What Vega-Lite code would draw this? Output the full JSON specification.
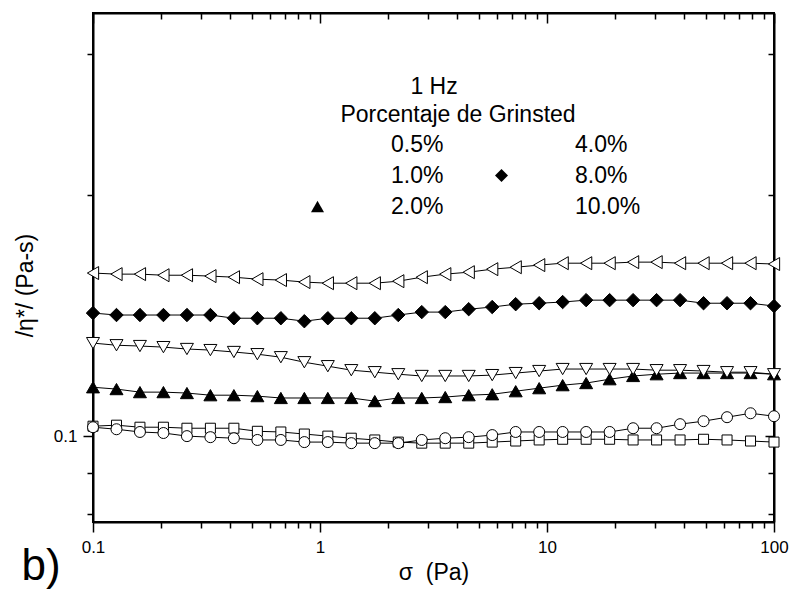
{
  "$schema": "https://vega.github.io/schema/vega-lite/v6.json",
  "width": 681,
  "height": 509,
  "autosize": {"type": "none"},
  "padding": {"left": 93, "top": 13, "right": 21, "bottom": 86},
  "background": "white",
  "config": {
    "font": "Liberation Sans",
    "view": {"stroke": "black", "strokeWidth": 2},
    "axis": {
      "domainColor": "black", "domainWidth": 2, "tickColor": "black", "tickWidth": 1.5,
      "labelColor": "black", "titleColor": "black", "grid": false,
      "labelFont": "Liberation Sans", "titleFont": "Liberation Sans",
      "labelFontSize": 17, "titleFontSize": 23, "titleFontWeight": "normal",
      "labelOverlap": false, "labelFlush": false
    }
  },
  "data": {"values": [
    {"serie":"0.5%","sigma":0.1,"eta":0.1029},{"serie":"0.5%","sigma":0.1269,"eta":0.1032},{"serie":"0.5%","sigma":0.161,"eta":0.1026},{"serie":"0.5%","sigma":0.2043,"eta":0.1026},{"serie":"0.5%","sigma":0.2593,"eta":0.1023},{"serie":"0.5%","sigma":0.329,"eta":0.1023},{"serie":"0.5%","sigma":0.4175,"eta":0.1023},{"serie":"0.5%","sigma":0.5298,"eta":0.1014},{"serie":"0.5%","sigma":0.6723,"eta":0.1012},{"serie":"0.5%","sigma":0.8532,"eta":0.1006},
    {"serie":"0.5%","sigma":1.0826,"eta":0.1},{"serie":"0.5%","sigma":1.3738,"eta":0.0994},{"serie":"0.5%","sigma":1.7433,"eta":0.0989},{"serie":"0.5%","sigma":2.2122,"eta":0.0983},{"serie":"0.5%","sigma":2.8072,"eta":0.098},{"serie":"0.5%","sigma":3.5622,"eta":0.098},{"serie":"0.5%","sigma":4.5203,"eta":0.098},{"serie":"0.5%","sigma":5.7361,"eta":0.0983},{"serie":"0.5%","sigma":7.2789,"eta":0.0986},{"serie":"0.5%","sigma":9.2367,"eta":0.0989},
    {"serie":"0.5%","sigma":11.721,"eta":0.0991},{"serie":"0.5%","sigma":14.874,"eta":0.0991},{"serie":"0.5%","sigma":18.874,"eta":0.0991},{"serie":"0.5%","sigma":23.95,"eta":0.0989},{"serie":"0.5%","sigma":30.392,"eta":0.0989},{"serie":"0.5%","sigma":38.566,"eta":0.0989},{"serie":"0.5%","sigma":48.939,"eta":0.0991},{"serie":"0.5%","sigma":62.102,"eta":0.0989},{"serie":"0.5%","sigma":78.806,"eta":0.0986},{"serie":"0.5%","sigma":100,"eta":0.0983},

    {"serie":"1.0%","sigma":0.1,"eta":0.1026},{"serie":"1.0%","sigma":0.1269,"eta":0.102},{"serie":"1.0%","sigma":0.161,"eta":0.1012},{"serie":"1.0%","sigma":0.2043,"eta":0.1009},{"serie":"1.0%","sigma":0.2593,"eta":0.1},{"serie":"1.0%","sigma":0.329,"eta":0.0997},{"serie":"1.0%","sigma":0.4175,"eta":0.0994},{"serie":"1.0%","sigma":0.5298,"eta":0.0989},{"serie":"1.0%","sigma":0.6723,"eta":0.0989},{"serie":"1.0%","sigma":0.8532,"eta":0.0983},
    {"serie":"1.0%","sigma":1.0826,"eta":0.0983},{"serie":"1.0%","sigma":1.3738,"eta":0.098},{"serie":"1.0%","sigma":1.7433,"eta":0.098},{"serie":"1.0%","sigma":2.2122,"eta":0.098},{"serie":"1.0%","sigma":2.8072,"eta":0.0989},{"serie":"1.0%","sigma":3.5622,"eta":0.0994},{"serie":"1.0%","sigma":4.5203,"eta":0.0997},{"serie":"1.0%","sigma":5.7361,"eta":0.1003},{"serie":"1.0%","sigma":7.2789,"eta":0.1012},{"serie":"1.0%","sigma":9.2367,"eta":0.1012},
    {"serie":"1.0%","sigma":11.721,"eta":0.1012},{"serie":"1.0%","sigma":14.874,"eta":0.1012},{"serie":"1.0%","sigma":18.874,"eta":0.1012},{"serie":"1.0%","sigma":23.95,"eta":0.1023},{"serie":"1.0%","sigma":30.392,"eta":0.1023},{"serie":"1.0%","sigma":38.566,"eta":0.1035},{"serie":"1.0%","sigma":48.939,"eta":0.1044},{"serie":"1.0%","sigma":62.102,"eta":0.1056},{"serie":"1.0%","sigma":78.806,"eta":0.1068},{"serie":"1.0%","sigma":100,"eta":0.1059},

    {"serie":"2.0%","sigma":0.1,"eta":0.1151},{"serie":"2.0%","sigma":0.1269,"eta":0.1145},{"serie":"2.0%","sigma":0.161,"eta":0.1135},{"serie":"2.0%","sigma":0.2043,"eta":0.1135},{"serie":"2.0%","sigma":0.2593,"eta":0.1132},{"serie":"2.0%","sigma":0.329,"eta":0.1125},{"serie":"2.0%","sigma":0.4175,"eta":0.1125},{"serie":"2.0%","sigma":0.5298,"eta":0.1122},{"serie":"2.0%","sigma":0.6723,"eta":0.1116},{"serie":"2.0%","sigma":0.8532,"eta":0.1116},
    {"serie":"2.0%","sigma":1.0826,"eta":0.1116},{"serie":"2.0%","sigma":1.3738,"eta":0.1116},{"serie":"2.0%","sigma":1.7433,"eta":0.1106},{"serie":"2.0%","sigma":2.2122,"eta":0.1116},{"serie":"2.0%","sigma":2.8072,"eta":0.1116},{"serie":"2.0%","sigma":3.5622,"eta":0.1119},{"serie":"2.0%","sigma":4.5203,"eta":0.1125},{"serie":"2.0%","sigma":5.7361,"eta":0.1128},{"serie":"2.0%","sigma":7.2789,"eta":0.1138},{"serie":"2.0%","sigma":9.2367,"eta":0.1148},
    {"serie":"2.0%","sigma":11.721,"eta":0.1158},{"serie":"2.0%","sigma":14.874,"eta":0.1165},{"serie":"2.0%","sigma":18.874,"eta":0.1178},{"serie":"2.0%","sigma":23.95,"eta":0.1189},{"serie":"2.0%","sigma":30.392,"eta":0.1195},{"serie":"2.0%","sigma":38.566,"eta":0.1199},{"serie":"2.0%","sigma":48.939,"eta":0.1199},{"serie":"2.0%","sigma":62.102,"eta":0.1199},{"serie":"2.0%","sigma":78.806,"eta":0.1199},{"serie":"2.0%","sigma":100,"eta":0.1195},

    {"serie":"4.0%","sigma":0.1,"eta":0.1307},{"serie":"4.0%","sigma":0.1269,"eta":0.1299},{"serie":"4.0%","sigma":0.161,"eta":0.1296},{"serie":"4.0%","sigma":0.2043,"eta":0.1292},{"serie":"4.0%","sigma":0.2593,"eta":0.1285},{"serie":"4.0%","sigma":0.329,"eta":0.1281},{"serie":"4.0%","sigma":0.4175,"eta":0.1274},{"serie":"4.0%","sigma":0.5298,"eta":0.1266},{"serie":"4.0%","sigma":0.6723,"eta":0.1255},{"serie":"4.0%","sigma":0.8532,"eta":0.1237},
    {"serie":"4.0%","sigma":1.0826,"eta":0.1223},{"serie":"4.0%","sigma":1.3738,"eta":0.1209},{"serie":"4.0%","sigma":1.7433,"eta":0.1202},{"serie":"4.0%","sigma":2.2122,"eta":0.1195},{"serie":"4.0%","sigma":2.8072,"eta":0.1189},{"serie":"4.0%","sigma":3.5622,"eta":0.1189},{"serie":"4.0%","sigma":4.5203,"eta":0.1189},{"serie":"4.0%","sigma":5.7361,"eta":0.1192},{"serie":"4.0%","sigma":7.2789,"eta":0.1199},{"serie":"4.0%","sigma":9.2367,"eta":0.1206},
    {"serie":"4.0%","sigma":11.721,"eta":0.1213},{"serie":"4.0%","sigma":14.874,"eta":0.1213},{"serie":"4.0%","sigma":18.874,"eta":0.1213},{"serie":"4.0%","sigma":23.95,"eta":0.1213},{"serie":"4.0%","sigma":30.392,"eta":0.1209},{"serie":"4.0%","sigma":38.566,"eta":0.1209},{"serie":"4.0%","sigma":48.939,"eta":0.1206},{"serie":"4.0%","sigma":62.102,"eta":0.1202},{"serie":"4.0%","sigma":78.806,"eta":0.1202},{"serie":"4.0%","sigma":100,"eta":0.1195},

    {"serie":"8.0%","sigma":0.1,"eta":0.1425},{"serie":"8.0%","sigma":0.1269,"eta":0.1417},{"serie":"8.0%","sigma":0.161,"eta":0.1417},{"serie":"8.0%","sigma":0.2043,"eta":0.1417},{"serie":"8.0%","sigma":0.2593,"eta":0.1417},{"serie":"8.0%","sigma":0.329,"eta":0.1417},{"serie":"8.0%","sigma":0.4175,"eta":0.1404},{"serie":"8.0%","sigma":0.5298,"eta":0.1404},{"serie":"8.0%","sigma":0.6723,"eta":0.1404},{"serie":"8.0%","sigma":0.8532,"eta":0.1392},
    {"serie":"8.0%","sigma":1.0826,"eta":0.1404},{"serie":"8.0%","sigma":1.3738,"eta":0.1404},{"serie":"8.0%","sigma":1.7433,"eta":0.1404},{"serie":"8.0%","sigma":2.2122,"eta":0.1417},{"serie":"8.0%","sigma":2.8072,"eta":0.1429},{"serie":"8.0%","sigma":3.5622,"eta":0.1429},{"serie":"8.0%","sigma":4.5203,"eta":0.1441},{"serie":"8.0%","sigma":5.7361,"eta":0.145},{"serie":"8.0%","sigma":7.2789,"eta":0.1462},{"serie":"8.0%","sigma":9.2367,"eta":0.1466},
    {"serie":"8.0%","sigma":11.721,"eta":0.1471},{"serie":"8.0%","sigma":14.874,"eta":0.1479},{"serie":"8.0%","sigma":18.874,"eta":0.1479},{"serie":"8.0%","sigma":23.95,"eta":0.1479},{"serie":"8.0%","sigma":30.392,"eta":0.1479},{"serie":"8.0%","sigma":38.566,"eta":0.1479},{"serie":"8.0%","sigma":48.939,"eta":0.1466},{"serie":"8.0%","sigma":62.102,"eta":0.1466},{"serie":"8.0%","sigma":78.806,"eta":0.1466},{"serie":"8.0%","sigma":100,"eta":0.1454},

    {"serie":"10.0%","sigma":0.1,"eta":0.1599},{"serie":"10.0%","sigma":0.1269,"eta":0.1594},{"serie":"10.0%","sigma":0.161,"eta":0.1594},{"serie":"10.0%","sigma":0.2043,"eta":0.1589},{"serie":"10.0%","sigma":0.2593,"eta":0.1589},{"serie":"10.0%","sigma":0.329,"eta":0.1585},{"serie":"10.0%","sigma":0.4175,"eta":0.158},{"serie":"10.0%","sigma":0.5298,"eta":0.1571},{"serie":"10.0%","sigma":0.6723,"eta":0.1567},{"serie":"10.0%","sigma":0.8532,"eta":0.1558},
    {"serie":"10.0%","sigma":1.0826,"eta":0.1553},{"serie":"10.0%","sigma":1.3738,"eta":0.1553},{"serie":"10.0%","sigma":1.7433,"eta":0.1553},{"serie":"10.0%","sigma":2.2122,"eta":0.1562},{"serie":"10.0%","sigma":2.8072,"eta":0.158},{"serie":"10.0%","sigma":3.5622,"eta":0.1594},{"serie":"10.0%","sigma":4.5203,"eta":0.1603},{"serie":"10.0%","sigma":5.7361,"eta":0.1617},{"serie":"10.0%","sigma":7.2789,"eta":0.1626},{"serie":"10.0%","sigma":9.2367,"eta":0.1636},
    {"serie":"10.0%","sigma":11.721,"eta":0.1645},{"serie":"10.0%","sigma":14.874,"eta":0.1645},{"serie":"10.0%","sigma":18.874,"eta":0.1645},{"serie":"10.0%","sigma":23.95,"eta":0.165},{"serie":"10.0%","sigma":30.392,"eta":0.165},{"serie":"10.0%","sigma":38.566,"eta":0.1645},{"serie":"10.0%","sigma":48.939,"eta":0.1645},{"serie":"10.0%","sigma":62.102,"eta":0.1645},{"serie":"10.0%","sigma":78.806,"eta":0.1645},{"serie":"10.0%","sigma":100,"eta":0.1641}
  ]},
  "layer": [
    {
      "mark": {"type": "line", "color": "black", "strokeWidth": 1},
      "encoding": {
        "x": {"field": "sigma", "type": "quantitative",
          "scale": {"type": "log", "domain": [0.1, 100], "nice": false},
          "axis": {
            "orient": "bottom",
            "values": [0.1,0.2,0.3,0.4,0.5,0.6,0.7,0.8,0.9,1,2,3,4,5,6,7,8,9,10,20,30,40,50,60,70,80,90,100],
            "labelExpr": "datum.value == 0.1 ? '0.1' : datum.value == 1 ? '1' : datum.value == 10 ? '10' : datum.value == 100 ? '100' : ''",
            "tickSize": {"condition": {"test": "indexof([0.1,1,10,100], datum.value) >= 0", "value": 10}, "value": 6},
            "labelPadding": 7,
            "title": "σ\u00a0 (Pa)",
            "titlePadding": 6
          }
        },
        "y": {"field": "eta", "type": "quantitative",
          "scale": {"type": "log", "domain": [0.0781, 0.338], "nice": false, "zero": false},
          "axis": {
            "orient": "left",
            "values": [0.08, 0.09, 0.1, 0.2, 0.3],
            "labelExpr": "datum.value == 0.1 ? '0.1' : ''",
            "tickSize": {"condition": {"test": "datum.value == 0.1", "value": 10}, "value": 6},
            "labelPadding": 6,
            "title": "/η*/ (Pa-s)",
            "titlePadding": 16,
            "titleY": 272
          }
        },
        "detail": {"field": "serie", "type": "nominal"}
      }
    },
    {
      "mark": {"type": "point", "filled": false, "stroke": "black", "strokeWidth": 1, "opacity": 1, "fillOpacity": 1,
        "fill": {"expr": "((datum.serie || datum.value) === '2.0%' || (datum.serie || datum.value) === '8.0%') ? 'black' : 'white'"},
        "size": {"expr": "(datum.serie || datum.value) === '0.5%' ? 100 : (datum.serie || datum.value) === '1.0%' ? 121 : (datum.serie || datum.value) === '8.0%' ? 180 : 169"}
      },
      "encoding": {
        "x": {"field": "sigma", "type": "quantitative",
          "axis": {
            "orient": "top",
            "values": [0.1,0.2,0.3,0.4,0.5,0.6,0.7,0.8,0.9,1,2,3,4,5,6,7,8,9,10,20,30,40,50,60,70,80,90,100],
            "labels": false,
            "tickSize": {"condition": {"test": "indexof([0.1,1,10,100], datum.value) >= 0", "value": -10}, "value": -6},
            "title": null
          }
        },
        "y": {"field": "eta", "type": "quantitative",
          "axis": {
            "orient": "right",
            "values": [0.08, 0.09, 0.1, 0.2, 0.3],
            "labels": false,
            "tickSize": {"condition": {"test": "datum.value == 0.1", "value": -9}, "value": -6},
            "title": null
          }
        },
        "shape": {"field": "serie", "type": "nominal",
          "scale": {"domain": ["0.5%","1.0%","2.0%","4.0%","8.0%","10.0%"],
                    "range": ["square","circle","triangle-up","triangle-down","diamond","triangle-left"]},
          "legend": {
            "title": null,
            "orient": "none", "legendX": 213, "legendY": 120,
            "columns": 2, "columnPadding": 46, "rowPadding": 7,
            "padding": 0,
            "symbolSize": 169,
            "symbolStrokeColor": "black", "symbolStrokeWidth": 1,
            "labelFont": "Liberation Sans", "labelFontSize": 23, "labelColor": "black", "labelOffset": 62
          }
        }
      }
    },
    {
      "data": {"values": [{}]},
      "mark": {"type": "text", "text": "1 Hz", "font": "Liberation Sans", "fontSize": 23, "color": "black", "align": "center", "baseline": "middle"},
      "encoding": {
        "x": {"datum": 3.18, "type": "quantitative", "axis": null},
        "y": {"datum": 0.2731, "type": "quantitative", "axis": null}
      }
    },
    {
      "data": {"values": [{}]},
      "mark": {"type": "text", "text": "Porcentaje de Grinsted", "font": "Liberation Sans", "fontSize": 23, "color": "black", "align": "center", "baseline": "middle"},
      "encoding": {
        "x": {"datum": 4.055, "type": "quantitative", "axis": null},
        "y": {"datum": 0.2519, "type": "quantitative", "axis": null}
      }
    },
    {
      "data": {"values": [{}]},
      "mark": {"type": "text", "text": "b)", "font": "Liberation Sans", "fontSize": 44, "color": "black", "dx": -52, "align": "center", "baseline": "middle"},
      "encoding": {
        "x": {"datum": 0.1, "type": "quantitative", "axis": null},
        "y": {"datum": 0.0686, "type": "quantitative", "axis": null}
      }
    }
  ],
  "resolve": {"axis": {"x": "independent", "y": "independent"}}
}
